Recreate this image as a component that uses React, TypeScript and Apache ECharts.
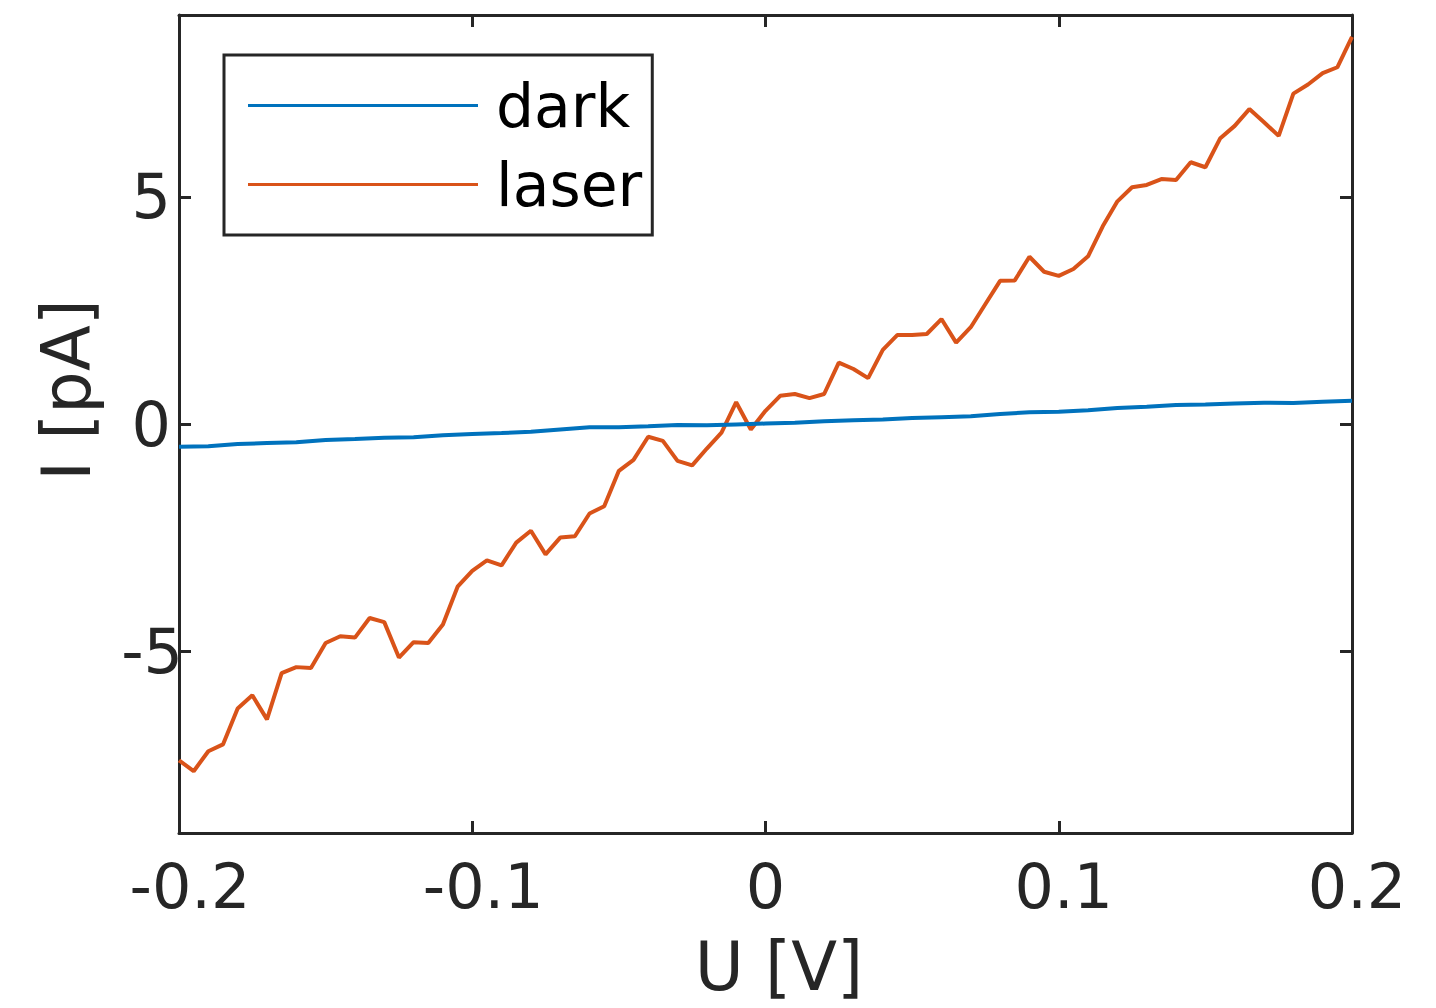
import React, { useEffect, useRef } from "react";
import * as echarts from "echarts";

const uValues: number[] = [];
for (let i = 0; i <= 80; i++) uValues.push(Math.round((-0.2 + i * 0.005) * 1000) / 1000);

const laserValues = [
  -7.40, -7.64, -7.20, -7.05, -6.26, -5.97, -6.50, -5.48, -5.35, -5.37,
  -4.82, -4.67, -4.70, -4.27, -4.36, -5.14, -4.80, -4.82, -4.41, -3.58,
  -3.23, -3.00, -3.11, -2.61, -2.35, -2.87, -2.50, -2.47, -1.97, -1.81,
  -1.03, -0.79, -0.28, -0.37, -0.81, -0.91, -0.54, -0.19, 0.48, -0.12,
  0.29, 0.62, 0.66, 0.57, 0.66, 1.35, 1.21, 1.01, 1.63, 1.96,
  1.96, 1.98, 2.31, 1.79, 2.13, 2.64, 3.15, 3.16, 3.68, 3.35,
  3.26, 3.41, 3.69, 4.35, 4.90, 5.21, 5.26, 5.39, 5.37, 5.76,
  5.65, 6.28, 6.56, 6.93, 6.64, 6.34, 7.27, 7.47, 7.72, 7.85,
  8.52,
];

const darkU: number[] = [];
for (let k = 0; k <= 40; k++) darkU.push(Math.round((-0.2 + k * 0.01) * 1000) / 1000);

const darkValues = [
  -0.50, -0.49, -0.44, -0.42, -0.40, -0.35, -0.33, -0.30, -0.29, -0.25,
  -0.22, -0.20, -0.17, -0.12, -0.07, -0.07, -0.05, -0.02, -0.03, -0.01,
  0.01, 0.03, 0.06, 0.08, 0.10, 0.13, 0.15, 0.17, 0.22, 0.26,
  0.27, 0.30, 0.35, 0.38, 0.42, 0.43, 0.45, 0.47, 0.46, 0.49,
  0.51,
];

const xTicks = [-0.2, -0.1, 0, 0.1, 0.2];
const yTicks = [-5, 0, 5];

const FONT = "DejaVu Sans";
const AX = "#262626";

export default function App() {
  const ref = useRef<HTMLDivElement>(null);
  useEffect(() => {
    if (!ref.current) return;
    const chart = echarts.init(ref.current, null, { renderer: "svg" });
    const axisLine = { show: true, onZero: false, lineStyle: { color: AX, width: 3 } };
    const tick = { show: true, inside: true, length: 12, lineStyle: { color: AX, width: 3 } };
    const lbl = { fontFamily: FONT, fontSize: 62, color: AX };
    chart.setOption({
      animation: false,
      backgroundColor: "#ffffff",
      grid: { left: 179, right: 84, top: 15, bottom: 175, containLabel: false },
      legend: {
        show: true,
        orient: "vertical",
        left: 224,
        top: 55,
        backgroundColor: "#ffffff",
        borderColor: AX,
        borderWidth: 3,
        borderRadius: 0,
        padding: [11, 10, 11, 24],
        itemGap: 0,
        itemWidth: 230,
        itemHeight: 3,
        icon: "rect",
        textStyle: { fontFamily: FONT, fontSize: 60, color: "#000000", lineHeight: 79, padding: [0, 0, 0, 13] },
        data: ["dark", "laser"],
      },
      xAxis: [
        {
          type: "value",
          min: -0.2,
          max: 0.2,
          interval: 0.1,
          position: "bottom",
          axisLine,
          axisTick: { ...tick, customValues: xTicks },
          splitLine: { show: false },
          axisLabel: {
            customValues: xTicks,
            margin: 22,
            ...lbl,
            formatter: (v: number) => {
              if (Math.abs(v) < 1e-9) return "0";
              const s = String(Math.round(v * 10) / 10);
              return v < 0 ? `{neg|${s}}` : `{pos|${s}}`;
            },
            rich: {
              neg: { ...lbl, padding: [0, 0, 0, 22] },
              pos: { ...lbl, padding: [0, 0, 0, 10] },
            },
          },
        },
        {
          type: "value",
          min: -0.2,
          max: 0.2,
          interval: 0.1,
          position: "top",
          axisLine,
          axisTick: { ...tick, customValues: xTicks },
          splitLine: { show: false },
          axisLabel: { show: false },
        },
      ],
      yAxis: [
        {
          type: "value",
          min: -9,
          max: 9,
          position: "left",
          axisLine,
          axisTick: { ...tick, customValues: yTicks },
          splitLine: { show: false },
          axisLabel: {
            customValues: yTicks,
            margin: 8,
            ...lbl,
            formatter: (v: number) => (v < 0 ? `{neg|${v}}` : String(v)),
            rich: {
              neg: { ...lbl, padding: [0, -12, 0, 0] },
            },
          },
        },
        {
          type: "value",
          min: -9,
          max: 9,
          position: "right",
          axisLine,
          axisTick: { ...tick, customValues: yTicks },
          splitLine: { show: false },
          axisLabel: { show: false },
        },
      ],
      graphic: [
        {
          type: "text",
          x: 779,
          y: 967,
          style: { text: "U [V]", fontFamily: FONT, fontSize: 67, fill: AX, align: "center", verticalAlign: "middle" },
        },
        {
          type: "text",
          x: 67,
          y: 390,
          rotation: Math.PI / 2,
          style: { text: "I [pA]", fontFamily: FONT, fontSize: 67, fill: AX, align: "center", verticalAlign: "middle" },
        },
      ],
      series: [
        {
          name: "dark",
          type: "line",
          data: darkU.map((u, i) => [u, darkValues[i]]),
          showSymbol: false,
          symbol: "none",
          lineStyle: { color: "#0072BD", width: 4 },
          itemStyle: { color: "#0072BD" },
          z: 3,
        },
        {
          name: "laser",
          type: "line",
          data: uValues.map((u, i) => [u, laserValues[i]]),
          showSymbol: false,
          symbol: "none",
          lineStyle: { color: "#D95319", width: 4 },
          itemStyle: { color: "#D95319" },
          z: 2,
        },
      ],
    });
    return () => chart.dispose();
  }, []);
  return <div ref={ref} style={{ position: "absolute", left: 0, top: 0, width: 1436, height: 1008 }} />;
}
